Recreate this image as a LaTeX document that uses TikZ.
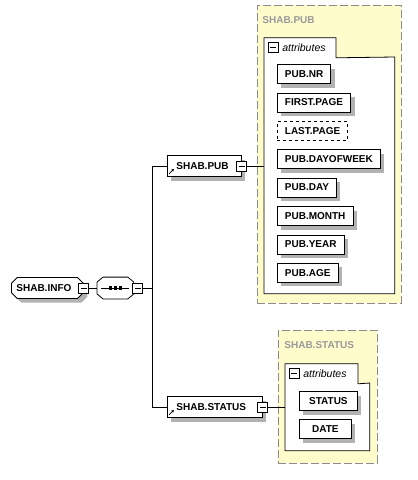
\documentclass[tikz,border=0pt]{standalone}
\usepackage{fontspec}
\newfontfamily\xsdfont{Liberation Sans}
\usetikzlibrary{shapes.misc, shadows, arrows.meta, positioning}

\begin{document}
\begin{tikzpicture}[x=1pt, y=-1pt, line width=0.8pt,
  every node/.style={font=\xsdfont\bfseries\fontsize{10}{12}\selectfont},
  shade/.style={drop shadow={shadow xshift=4pt, shadow yshift=-4pt, fill=black!30, opacity=1}},
  elem/.style={draw, fill=white, align=left, inner xsep=9pt, minimum height=21pt, shade},
  attr/.style={draw, fill=white, inner xsep=7.5pt, minimum height=19pt, shade},
  optattr/.style={draw, dashed, fill=white, inner xsep=7.5pt, minimum height=19pt},
  minus/.style={draw, fill=white, minimum size=10pt, inner sep=0pt,
    path picture={\draw ([xshift=2pt]path picture bounding box.west) -- ([xshift=-2pt]path picture bounding box.east);}},
  group/.style={draw=black!45, fill=yellow!20, dash pattern=on 8pt off 3pt},
  grouplabel/.style={text=black!40, inner sep=0pt},
  tabtext/.style={font=\xsdfont\itshape\fontsize{10.5}{12}\selectfont, inner sep=0pt}]
  \useasboundingbox (0,0) rectangle (418,480);

  % Groups of attributes
  \node[group, minimum width=144pt, minimum height=298pt, anchor=north west] (pubgrp) at (257,5) {};
  \node[grouplabel, anchor=base west] at (262,23) {SHAB.PUB};
  \node[minimum width=130pt, minimum height=236pt, inner sep=0pt, anchor=north west] (pubattr) at (264,57) {};
  \draw[fill=white] (pubattr.south west) -- ++(0,-256) -- ++(72,0) -- ++(0,20) -- (pubattr.north east) -- (pubattr.south east) -- cycle;
  \node[minus] (pubtab) at ([shift={(9,-10)}]pubattr.north west) {};
  \node[tabtext, anchor=base west] at (282,51) {attributes};

  \node[group, minimum width=99pt, minimum height=133pt, anchor=north west] (statgrp) at (278,330) {};
  \node[grouplabel, anchor=base west] at (284,348) {SHAB.STATUS};
  \node[minimum width=84pt, minimum height=67pt, inner sep=0pt, anchor=north west] (statattr) at (285,383) {};
  \draw[fill=white] (statattr.south west) -- ++(0,-87) -- ++(73,0) -- ++(0,20) -- (statattr.north east) -- (statattr.south east) -- cycle;
  \node[minus] (stattab) at ([shift={(9,-10)}]statattr.north west) {};
  \node[tabtext, anchor=base west] at (303,377) {attributes};

  % Attributes
  \foreach \name/\txt/\sty [count=\i from 0] in {nr/PUB.NR/attr, first/FIRST.PAGE/attr,
      last/LAST.PAGE/optattr, dow/PUB.DAYOFWEEK/attr, day/PUB.DAY/attr,
      month/PUB.MONTH/attr, year/PUB.YEAR/attr, age/PUB.AGE/attr}
    \node[\sty, anchor=west] (\name) at (277,{74+28.4*\i}) {\txt};
  \node[attr, minimum width=58pt, anchor=west] (status) at (299,401) {STATUS};
  \node[attr, minimum width=52pt, anchor=west] (date) at (299,429) {DATE};

  % Elements
  \node[elem, chamfered rectangle, chamfered rectangle xsep=3pt, inner xsep=2pt, text width=62pt, anchor=west] (info) at (11,288) {SHAB.INFO};
  \node[minus] (infom) at (info.east) {};
  \node[minimum width=36pt, minimum height=21pt, inner sep=0pt, anchor=west] (seq) at (97,288) {};
  \draw[fill=white] ([xshift=6pt]seq.north west) -- ([xshift=-6pt]seq.north east) -- ([yshift=-5pt]seq.north east)
    -- ([yshift=5pt]seq.south east) -- ([xshift=-6pt]seq.south east) -- ([xshift=6pt]seq.south west)
    -- ([yshift=5pt]seq.south west) -- ([yshift=-5pt]seq.north west) -- cycle;
  \draw ([xshift=4pt]seq.west) -- ([xshift=-5pt]seq.east);
  \foreach \dx in {-5,0,5}
    \fill ([xshift=\dx pt]seq.center) +(-1.6,-1.6) rectangle +(1.6,1.6);
  \node[minus] (seqm) at ([xshift=4pt]seq.east) {};
  \coordinate (branch) at (152,288);

  \node[elem, text width=56pt, anchor=west] (pub) at (167,166) {SHAB.PUB};
  \node[minus] (pubm) at (pub.east) {};
  \node[elem, text width=77pt, anchor=west] (stat) at (167,407) {SHAB.STATUS};
  \node[minus] (statm) at (stat.east) {};
  \draw[-{Stealth[length=3pt, width=3pt]}, line width=0.7pt] ([shift={(2,-3)}]pub.south west) -- ++(5,-5);
  \draw[-{Stealth[length=3pt, width=3pt]}, line width=0.7pt] ([shift={(2,-3)}]stat.south west) -- ++(5,-5);

  % Connectors
  \draw (infom) -- (seq);
  \draw (seqm) -- (branch);
  \draw (pub.west) -- (pub.west -| branch) -- (stat.west -| branch) -- (stat.west);
  \draw (pubm) -- (pubm -| pubattr.west);
  \draw (statm) -- (statm -| statattr.west);
\end{tikzpicture}
\end{document}
